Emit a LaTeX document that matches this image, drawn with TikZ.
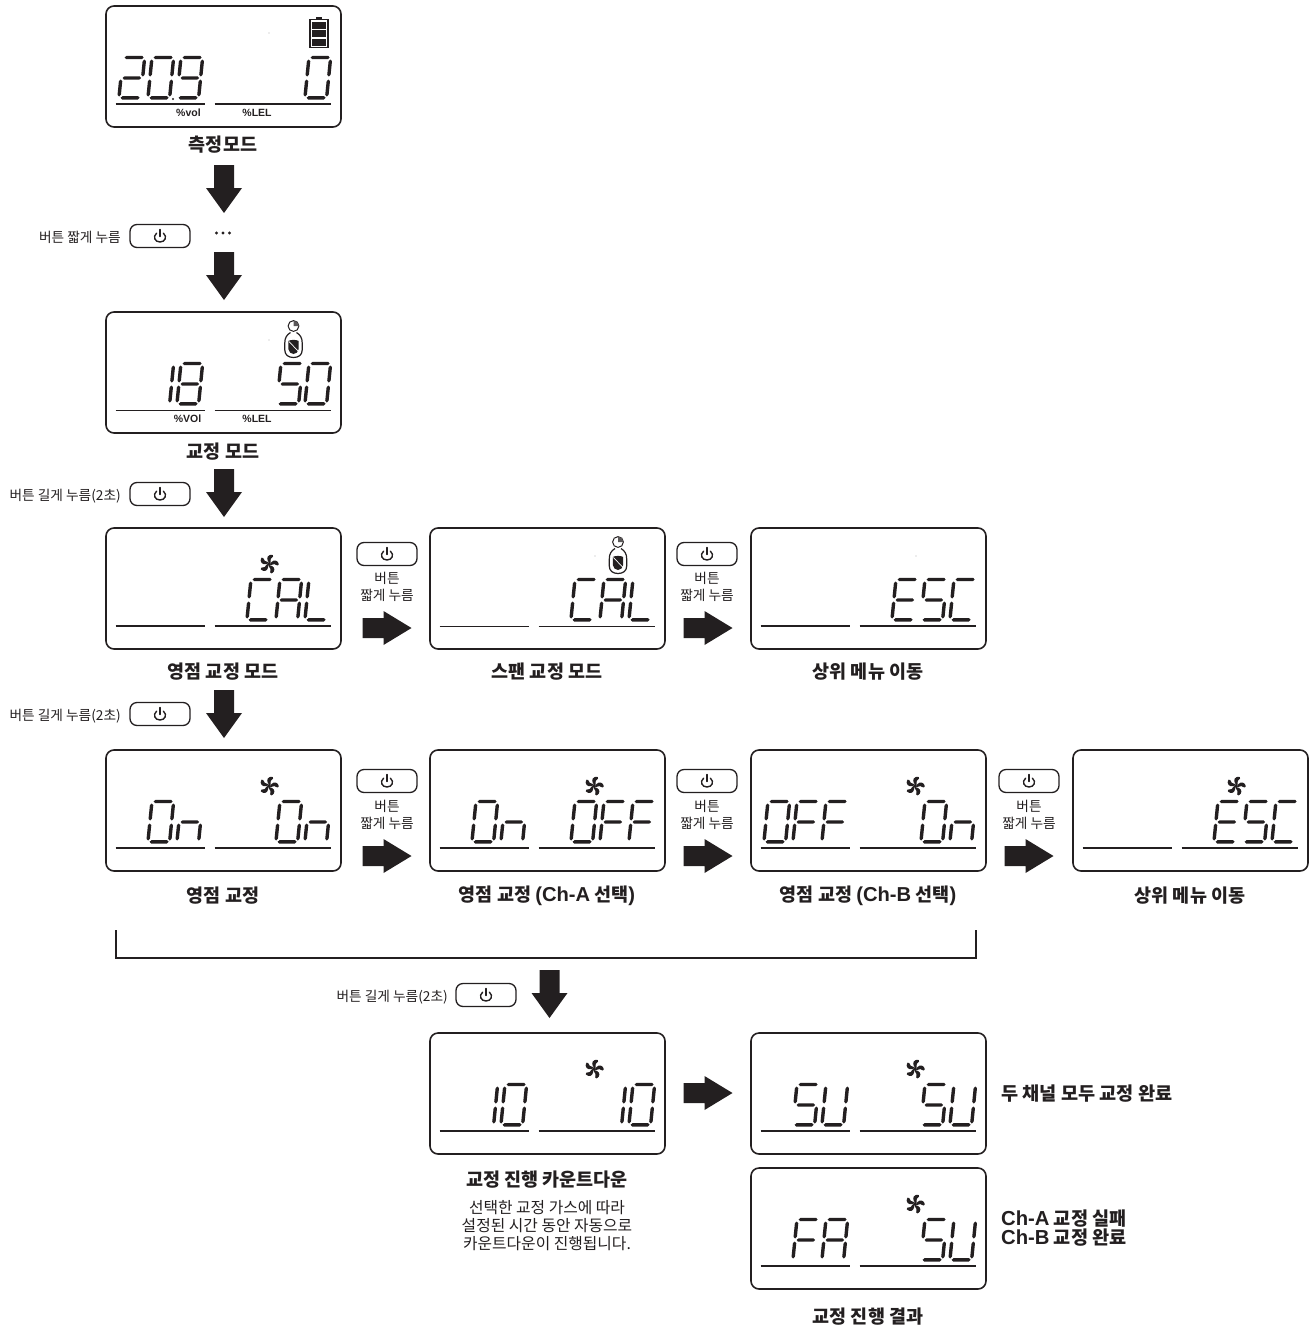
\documentclass[tikz,border=0pt]{standalone}
\usepackage{fontspec}
\setmainfont{Noto Sans CJK KR}
\newfontfamily\latinb{Liberation Sans}[Scale=1.09]
\newfontfamily\unitfont{Liberation Sans}
\definecolor{ink}{HTML}{231F20}
\tikzset{
  panel/.style={draw=ink,line width=1.6pt,rounded corners=8pt,minimum width=235pt,minimum height=121pt,inner sep=0,outer sep=0,anchor=north west},
  lcdrule/.style={ink,line width=1.8pt},
  thinrule/.style={ink,line width=1pt},
  btnbox/.style={draw=ink,line width=1.3pt,rounded corners=7pt,minimum width=60pt,minimum height=23pt,inner sep=0},
  powerline/.style={ink,line width=1.4pt,line cap=round},
  caption/.style={font=\fontsize{18.5}{20}\selectfont\bfseries,text=ink,inner sep=0},
  side/.style={font=\fontsize{18.6}{19.5}\selectfont\bfseries,text=ink,inner sep=0,anchor=west,align=left},
  small/.style={font=\fontsize{13.7}{17}\selectfont,text=ink,inner sep=0,align=center},
  body/.style={font=\fontsize{15.8}{18}\selectfont,text=ink,inner sep=0,align=center},
  unitlabel/.style={font=\unitfont\fontsize{10.5}{10.5}\selectfont\bfseries,text=ink,inner sep=0},
  blockfill/.style={fill=ink,draw=none},
}
\newcommand\lt[1]{{\latinb #1}}
\newcommand\hs[3]{\fill[ink] (#1,#3) -- (#1+1.7,#3-1.7) -- (#2-1.7,#3-1.7) -- (#2,#3) -- (#2-1.7,#3+1.7) -- (#1+1.7,#3+1.7) -- cycle;}
\newcommand\vs[3]{\fill[ink] (#1,#2) -- (#1+1.7,#2+1.7) -- (#1+1.7,#3-1.7) -- (#1,#3) -- (#1-1.7,#3-1.7) -- (#1-1.7,#2+1.7) -- cycle;}
\newcommand\lcdsega{\hs{3.5}{22.5}{-41.5}}
\newcommand\lcdsegb{\vs{23.5}{-39.5}{-22.5}}
\newcommand\lcdsegc{\vs{23.5}{-19.5}{-2.5}}
\newcommand\lcdsegd{\hs{3.5}{22.5}{-1.2}}
\newcommand\lcdsege{\vs{1.8}{-19.5}{-2.5}}
\newcommand\lcdsegf{\vs{1.8}{-39.5}{-22.5}}
\newcommand\lcdsegg{\hs{3.5}{22}{-21}}
\newcommand\glyphA{a,b,c,e,f,g}
\newcommand\glyphC{a,d,e,f}
\newcommand\glyphE{a,d,e,f,g}
\newcommand\glyphF{a,e,f,g}
\newcommand\glyphL{d,e,f}
\newcommand\glyphS{a,c,d,f,g}
\newcommand\glyphU{b,c,d,e,f}
\newcommand\glyphn{c,e,g}
\newcommand\glyphO{a,b,c,d,e,f}
\newcommand\glyphI{b,c}
\newcommand\glyphT{a,b,d,e,g}
\newcommand\glyphN{a,b,c,d,f,g}
\newcommand\glyphH{a,b,c,d,e,f,g}
\newcommand\lcdtext[3]{\foreach \cx/\gl in {#3}{%
  \begin{scope}[shift={(#1+\cx,#2+93)},xslant=0.1]
    \edef\seglist{\csname glyph\gl\endcsname}
    \foreach \sg in \seglist {\csname lcdseg\sg\endcsname}
  \end{scope}}}
\newcommand\lcd[4]{%
  \node[panel] (#1) at (#2,#3) {};
  \draw[#4] (#2+9.5,#3+98) -- (#2+99,#3+98);
  \draw[#4] (#2+108.5,#3+98) -- (#2+225,#3+98);}
\newcommand\lcdfan[2]{%
  \begin{scope}[shift={(#1,#2)}]
    \foreach \ang in {0,72,144,216,288}{
      \fill[ink,rotate=\ang] (0.4,-1) .. controls (-2.2,-3.5) and (-2.8,-7.4) .. (0.5,-8.9)
        .. controls (3.4,-9.8) and (5,-8.6) .. (4,-7.5)
        .. controls (2,-6.6) and (0.9,-4) .. (1.5,-1) -- cycle;}
    \fill[ink] (0,0) circle (1.9);
  \end{scope}}
\newcommand\lcdbottle[2]{%
  \begin{scope}[shift={(#1,#2)}]
    \draw[ink,line width=1pt] (0,0) circle (5.4);
    \fill[ink!75] (0,0) -- (0,-5.4) arc (-90:0:5.4) -- cycle;
    \draw[ink,line width=1.2pt,fill=white] (-3,6.5) .. controls (-7,9) and (-8.7,12) .. (-8.7,17) -- (-8.7,24)
      .. controls (-8.7,29) and (-5,31.5) .. (0,31.5) .. controls (5,31.5) and (8.7,29) .. (8.7,24) -- (8.7,17)
      .. controls (8.7,12) and (7,9) .. (3,6.5);
    \fill[ink] (-5.2,15) .. controls (-3,13.5) and (3,13.5) .. (5.2,15) -- (5.2,23) .. controls (5.2,26) and (2,28) .. (0,28) .. controls (-2,28) and (-5.2,26) .. (-5.2,23) -- cycle;
    \draw[white,line width=0.7pt] (-4.6,15.5) -- (4.6,25);
  \end{scope}}
\newcommand\lcddot[2]{\fill[ink] (#1,#2) circle (0.45);}
\newcommand\btn[3]{%
  \node[btnbox] (#1) at (#2,#3) {};
  \draw[powerline] (#2-3.4,#3-2.8) .. controls (#2-7.6,#3+0.8) and (#2-5,#3+6) .. (#2,#3+6) .. controls (#2+5,#3+6) and (#2+7.6,#3+0.8) .. (#2+3.4,#3-2.8);
  \draw[powerline] (#2,#3-6.5) -- (#2,#3+0.5);}
\newcommand\downarrowbox[3]{%
  \coordinate (#1) at (#2,#3);
  \fill[blockfill] (#1) ++(-10,0) -- ++(20,0) -- ++(0,23) -- ++(8,0) -- ++(-18,25) -- ++(-18,-25) -- ++(8,0) -- cycle;}
\newcommand\rightarrowbox[3]{%
  \coordinate (#1) at (#2,#3);
  \fill[blockfill] (#1) ++(0,-10) -- ++(21,0) -- ++(0,-7) -- ++(28,17) -- ++(-28,17) -- ++(0,-7) -- ++(-21,0) -- cycle;}
\begin{document}
\begin{tikzpicture}[x=1pt,y=-1pt]
\useasboundingbox (0,0) rectangle (1314,1328);
\lcd{p1}{106}{6}{lcdrule}
\lcd{p2}{106}{312}{thinrule}
\lcd{p3}{106}{528}{lcdrule}
\lcd{p4}{430}{528}{thinrule}
\lcd{p5}{751}{528}{lcdrule}
\lcd{p6}{106}{750}{lcdrule}
\lcd{p7}{430}{750}{lcdrule}
\lcd{p8}{751}{750}{lcdrule}
\lcd{p9}{1073}{750}{lcdrule}
\lcd{p10}{430}{1033}{lcdrule}
\lcd{p11}{751}{1033}{lcdrule}
\lcd{p12}{751}{1168}{lcdrule}
\lcdtext{106}{6}{11/T,40/O,69/N,197/O}
\fill[ink] (173,99) circle (1.2);
\lcdtext{106}{312}{40/I,69/H,169/S,197/O}
\lcdtext{106}{528}{139/C,168/A,197/L}
\lcdtext{430}{528}{139/C,168/A,197/L}
\lcdtext{751}{528}{139/E,168/S,197/C}
\lcdtext{106}{750}{40/O,69/n,168/O,197/n}
\lcdtext{430}{750}{40/O,69/n,139/O,168/F,197/F}
\lcdtext{751}{750}{11/O,40/F,69/F,168/O,197/n}
\lcdtext{1073}{750}{139/E,168/S,197/C}
\lcdtext{430}{1033}{40/I,69/O,168/I,197/O}
\lcdtext{751}{1033}{40/S,69/U,168/S,197/U}
\lcdtext{751}{1168}{40/F,69/A,168/S,197/U}
\lcddot{269}{33}\lcddot{269}{340}\lcddot{595}{556}\lcddot{916}{556}
\lcdfan{269}{564}\lcdfan{269}{786}\lcdfan{594}{786}\lcdfan{915}{786}\lcdfan{1236}{786}
\lcdfan{594}{1069}\lcdfan{915}{1069}\lcdfan{915}{1204}
\lcdbottle{293.5}{326}
\lcdbottle{618}{542}
\draw[ink,line width=1.1pt] (310,19.5) rectangle (328,47.5);
\fill[ink] (316,17) rectangle (322,19.5);
\fill[ink] (312,21.5) rectangle (326,28.5);
\fill[ink] (312,30) rectangle (326,37);
\fill[ink] (312,38.5) rectangle (326,45.5);
\node[unitlabel] (u1) at (188.5,113) {\%vol};
\node[unitlabel] (u2) at (257,113) {\%LEL};
\node[unitlabel] (u3) at (187.5,419) {\%VOl};
\node[unitlabel] (u4) at (257,419) {\%LEL};
\node[caption] (c1) at (223,145) {측정모드};
\node[caption] (c2) at (223,452) {교정 모드};
\node[caption] (c3) at (223,672) {영점 교정 모드};
\node[caption] (c4) at (547,672) {스팬 교정 모드};
\node[caption] (c5) at (868,672) {상위 메뉴 이동};
\node[caption] (c6) at (223,896) {영점 교정};
\node[caption] (c7) at (547,896) {영점 교정 \lt{(Ch-A} 선택\lt{)}};
\node[caption] (c8) at (868,896) {영점 교정 \lt{(Ch-B} 선택\lt{)}};
\node[caption] (c9) at (1190,896) {상위 메뉴 이동};
\node[caption] (c10) at (547,1180) {교정 진행 카운트다운};
\node[caption] (c11) at (868,1317) {교정 진행 결과};
\node[body] (d1) at (547,1226) {선택한 교정 가스에 따라\\설정된 시간 동안 자동으로\\카운트다운이 진행됩니다.};
\node[side] (s1) at (1001,1094) {두 채널 모두 교정 완료};
\node[side] (s2) at (1001,1228) {\lt{Ch-A} 교정 실패\\\lt{Ch-B} 교정 완료};
\btn{b1}{160}{236}\btn{b2}{160}{494}\btn{b3}{160}{714}
\btn{b4}{387}{554}\btn{b5}{707}{554}
\btn{b6}{387}{781}\btn{b7}{707}{781}\btn{b8}{1029}{781}
\btn{b9}{486}{995}
\node[small,anchor=east] (l1) at (121,237) {버튼 짧게 누름};
\node[small,anchor=east] (l2) at (121,496) {버튼 길게 누름(2초)};
\node[small,anchor=east] (l3) at (121,716) {버튼 길게 누름(2초)};
\node[small,anchor=east] (l4) at (448,997) {버튼 길게 누름(2초)};
\node[small] (t1) at (387,587) {버튼\\짧게 누름};
\node[small] (t2) at (707,587) {버튼\\짧게 누름};
\node[small] (t3) at (387,814.5) {버튼\\짧게 누름};
\node[small] (t4) at (707,814.5) {버튼\\짧게 누름};
\node[small] (t5) at (1029,814.5) {버튼\\짧게 누름};
\foreach \dx in {216.5,223,229.5} \fill[ink] (\dx,233) circle (1.6);
\downarrowbox{a1}{224}{165}
\downarrowbox{a2}{224}{252}
\downarrowbox{a3}{224}{469}
\downarrowbox{a4}{224}{690}
\downarrowbox{a5}{549.5}{970}
\rightarrowbox{r1}{362.5}{628}
\rightarrowbox{r2}{683.5}{628}
\rightarrowbox{r3}{362.5}{856}
\rightarrowbox{r4}{683.5}{856}
\rightarrowbox{r5}{1004.5}{856}
\rightarrowbox{r6}{683.5}{1093}
\coordinate (brL) at (116,930);
\coordinate (brR) at (976,930);
\draw[ink,line width=1.5pt] (brL) -- (brL |- 0,958) -- (brR |- 0,958) -- (brR);
\end{tikzpicture}
\end{document}
